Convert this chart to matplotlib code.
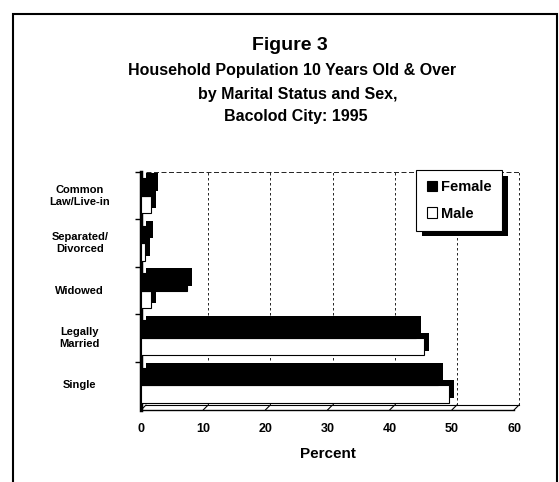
import matplotlib
matplotlib.use("Agg")
import matplotlib.pyplot as plt
import matplotlib.patheffects as pe
from matplotlib.transforms import offset_copy
from matplotlib.patches import Rectangle
import numpy as np

plt.rcParams['font.family'] = ['Liberation Sans', 'DejaVu Sans']

categories = ["Single", "Legally\nMarried", "Widowed", "Separated/\nDivorced", "Common\nLaw/Live-in"]
female = [47.8, 44.2, 7.4, 1.2, 1.9]
male = [49.6, 45.6, 1.6, 0.7, 1.6]
xticks = [0, 10, 20, 30, 40, 50, 60]

fig = plt.figure(figsize=(5.59, 4.82), dpi=100)
fig.patch.set_facecolor('white')

# outer frame
fig.add_artist(Rectangle((13/559, -0.01), (557-13)/559, 1 - 14/482 + 0.01, transform=fig.transFigure,
                         fill=False, edgecolor='black', linewidth=1.5))

ax = fig.add_axes([141/559, 1 - 410/482, (514-141)/559, (410-172)/482])
ax.set_xlim(0, 60)
ax.set_ylim(-0.52, 4.40)
for s in ['top', 'right', 'bottom']:
    ax.spines[s].set_visible(False)
ax.spines['left'].set_linewidth(2.5)

dx, dy = 5, 5
back = offset_copy(ax.transData, fig=fig, x=dx, y=dy, units='dots')

# back wall grid lines
for xv in xticks[1:]:
    ax.plot([xv, xv], [-0.52, 4.40], transform=back, color='black', lw=0.6,
            ls=(0, (3, 3)), zorder=0, clip_on=False)
ax.plot([0, 60], [4.40, 4.40], transform=back, color='black', lw=0.6,
        ls=(0, (6, 3)), zorder=0, clip_on=False)

# floor
ax.plot([0, 60], [-0.52, -0.52], color='black', lw=1.0, zorder=1, clip_on=False)
ax.plot([0, 60], [-0.52, -0.52], transform=back, color='black', lw=0.8, zorder=1, clip_on=False)
for xv in xticks:
    ax.annotate('', xy=(xv, -0.52), xycoords='data', xytext=(dx, dy), textcoords='offset pixels',
                arrowprops=dict(arrowstyle='-', color='black', lw=0.8, shrinkA=0, shrinkB=0))

y = np.arange(len(categories))
h = 0.37
shadow = [pe.SimplePatchShadow(offset=(3.5, 3.5), shadow_rgbFace='black', alpha=1.0), pe.Normal()]
bm = ax.barh(y - h/2, male, height=h, color='white', edgecolor='black', linewidth=0.8, zorder=3)
bf = ax.barh(y + h/2, female, height=h, color='black', edgecolor='black', linewidth=0.8, zorder=4)
for b in list(bm) + list(bf):
    b.set_path_effects(shadow)

ax.set_yticks(y)
ax.set_yticklabels([])
ax.set_yticks(y + 0.5, minor=True)
ax.tick_params(axis='y', which='major', length=0)
ax.tick_params(axis='y', which='minor', length=4, width=1, direction='out')
for yi, lab in zip(y, categories):
    ax.text(-0.164, yi, lab, transform=ax.get_yaxis_transform(), ha='center', va='center',
            fontsize=8, fontweight='bold', linespacing=1.25)

ax.set_xticks(xticks)
ax.tick_params(axis='x', length=0, pad=9, labelsize=9)
for t in ax.get_xticklabels():
    t.set_fontweight('bold')
ax.set_xlabel('Percent', fontsize=11, fontweight='bold', labelpad=9)

leg = ax.legend([bf, bm], ['Female', 'Male'], loc='upper right', bbox_to_anchor=(502/559, 1 - 170/482),
                bbox_transform=fig.transFigure, frameon=True, fancybox=False, shadow=False, framealpha=1,
                prop={'weight': 'bold', 'size': 10.5}, handlelength=0.7, handleheight=0.7,
                handletextpad=0.3, labelspacing=0.85, borderpad=0.7, borderaxespad=0)
leg.get_frame().set_edgecolor('black')
leg.get_frame().set_facecolor('white')
leg.get_frame().set_linewidth(0.8)
leg.get_frame().set_path_effects([pe.SimplePatchShadow(offset=(4, -4), shadow_rgbFace='black', alpha=1.0), pe.Normal()])
for hnd in leg.legend_handles:
    hnd.set_path_effects([])

fig.text(290/559, 1 - 46/482, 'Figure 3', ha='center', va='center', fontsize=14, fontweight='bold')
fig.text(292/559, 1 - 71/482, 'Household Population 10 Years Old & Over', ha='center', va='center', fontsize=11.5, fontweight='bold')
fig.text(298/559, 1 - 95/482, 'by Marital Status and Sex,', ha='center', va='center', fontsize=11.5, fontweight='bold')
fig.text(296/559, 1 - 117/482, 'Bacolod City: 1995', ha='center', va='center', fontsize=11.5, fontweight='bold')

fig.savefig('out.png', dpi=100)
